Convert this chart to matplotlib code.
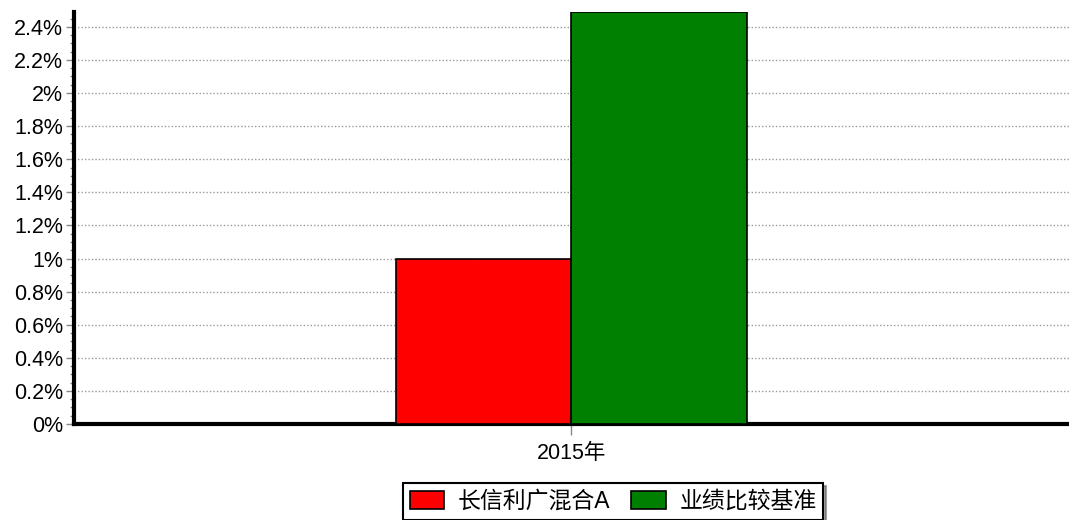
import numpy as np
import matplotlib.pyplot as plt
from matplotlib.ticker import MultipleLocator, FuncFormatter

plt.rcParams['font.family'] = ['Liberation Sans', 'Noto Sans CJK SC', 'DejaVu Sans']

categories = ['2015年']
series_names = ['长信利广混合A', '业绩比较基准']
fund_values = [1.0]
bench_values = [2.49]
colors = ['#ff0000', '#008000']

fig = plt.figure(figsize=(10.69, 5.2), dpi=100)
ax = fig.add_axes([0.0692, 0.1846, 0.9308, 0.7924])

x = np.arange(len(categories))
w = 0.176
ax.bar(x - w / 2, fund_values, w, color=colors[0], edgecolor='black', linewidth=1.2,
       label=series_names[0], zorder=3)
ax.bar(x + w / 2, bench_values, w, color=colors[1], edgecolor='black', linewidth=1.2,
       label=series_names[1], zorder=3)

ax.set_xlim(-0.5, 0.5)
ax.set_ylim(0, 2.49)
ax.yaxis.set_major_locator(MultipleLocator(0.2))
ax.yaxis.set_minor_locator(MultipleLocator(0.05))
ax.yaxis.set_major_formatter(FuncFormatter(lambda v, p: f'{v:g}%'))
ax.set_xticks(x)
ax.set_xticklabels(categories)

ax.grid(axis='y', which='major', linestyle=(0, (1, 1.5)), color='#999999', linewidth=1, zorder=0)
for s in ['top', 'right']:
    ax.spines[s].set_visible(False)
ax.spines['left'].set_linewidth(3)
ax.spines['bottom'].set_linewidth(3)
ax.tick_params(axis='y', which='major', length=6, width=1, color='#888888', labelsize=15.5, pad=2)
ax.tick_params(axis='y', which='minor', length=3, width=1, color='#888888')
ax.tick_params(axis='x', length=8, width=1, color='#888888', labelsize=15.5, pad=6)

leg = ax.legend(loc='upper center', bbox_to_anchor=(0.542, -0.143), ncol=2, fontsize=16.5,
                frameon=True, fancybox=False, shadow=True, handlelength=1.5,
                handleheight=0.8, borderpad=0.3, columnspacing=0.9, handletextpad=0.6,
                borderaxespad=0)
leg.get_frame().set_edgecolor('black')
leg.get_frame().set_linewidth(1.5)

fig.savefig('out.png', dpi=100)
